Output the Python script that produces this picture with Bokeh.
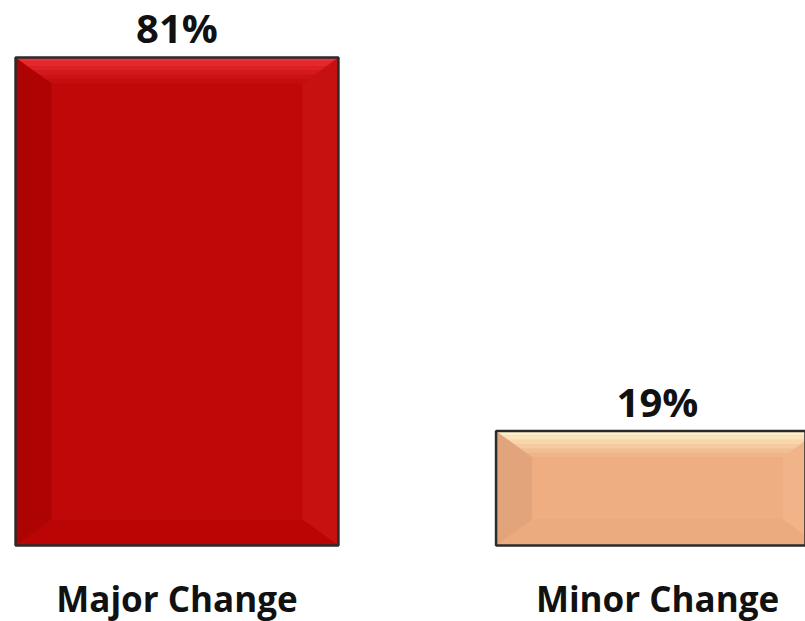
from bokeh.plotting import figure
from bokeh.models import Range1d, ColumnDataSource
from bokeh.core.properties import value
from bokeh.embed import file_html
from bokeh.resources import INLINE

categories = ["Major Change", "Minor Change"]
values = [81, 19]
value_labels = ["81%", "19%"]
bar_colors = ["#C00808", "#EEAE82"]
top_colors = ["#F0333A", "#FFF3CC"]
left_colors = ["#9E0000", "#D89C74"]
right_colors = ["#CC1616", "#F2B78C"]
bottom_colors = ["#B80404", "#EAA97C"]

W, H = 805, 621
xs_pos = [0, 1]
bar_w = 0.672
x0, x1 = -0.3673, 1.308
y0, y1 = -12.61, 90.46

p = figure(width=W, height=H, output_backend="svg", toolbar_location=None,
           x_range=Range1d(x0, x1), y_range=Range1d(y0, y1),
           min_border=0, min_border_left=0, min_border_right=0,
           min_border_top=0, min_border_bottom=0)
p.axis.visible = False
p.grid.visible = False
p.outline_line_color = None
p.background_fill_color = "white"
p.border_fill_color = "white"

src = ColumnDataSource(dict(x=xs_pos, top=values, color=bar_colors, lab=value_labels, cat=categories))
p.vbar(x="x", top="top", bottom=0, width=bar_w, fill_color="color", line_color=None, source=src)

# bevel overlays (derived from bar geometry)
px_x = (x1 - x0) / W
px_y = (y1 - y0) / H
dx = 36 * px_x
dy = 26 * px_y
bxs, bys, bcols, balph = [], [], [], []
for i, (xc, v) in enumerate(zip(xs_pos, values)):
    L, R, T, B = xc - bar_w / 2, xc + bar_w / 2, v, 0
    bxs.append([L, L + dx, L + dx, L]); bys.append([T, T - dy, B + dy, B]); bcols.append(left_colors[i]); balph.append(0.55)
    bxs.append([R, R - dx, R - dx, R]); bys.append([T, T - dy, B + dy, B]); bcols.append(right_colors[i]); balph.append(0.6)
    bxs.append([L, L + dx, R - dx, R]); bys.append([B, B + dy, B + dy, B]); bcols.append(bottom_colors[i]); balph.append(0.6)
    n = 6
    for k in range(n):
        f0, f1 = k / n, (k + 1) / n
        ya, yb = T - f0 * dy, T - f1 * dy
        xa, xb = f0 * dx, f1 * dx
        bxs.append([L + xa, R - xa, R - xb, L + xb]); bys.append([ya, ya, yb, yb])
        bcols.append(top_colors[i]); balph.append(0.95 * (1 - f0) ** 1.2)
p.patches(xs=bxs, ys=bys, fill_color=bcols, fill_alpha=balph, line_color=None)

p.vbar(x="x", top="top", bottom=0, width=bar_w, fill_color=None, line_color="#2b2b2b", line_width=2.5, source=src)

p.text(x="x", y="top", text="lab", source=src, text_align="center", text_baseline="middle",
       y_offset=-30, text_font=value("Open Sans"), text_font_style="bold", text_font_size="40px",
       text_color="#111111")
src2 = ColumnDataSource(dict(x=xs_pos, y=[0, 0], cat=categories))
p.text(x="x", y="y", text="cat", source=src2, text_align="center", text_baseline="middle",
       y_offset=53, text_font=value("Open Sans"), text_font_style="bold", text_font_size="35px",
       text_color="#111111")

open("out.html", "w").write(file_html(p, INLINE))
